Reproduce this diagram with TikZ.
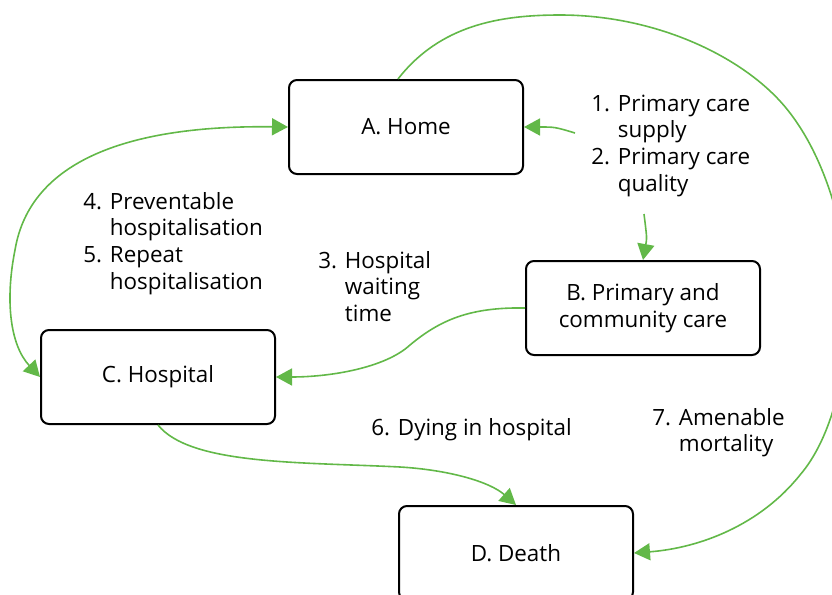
\documentclass[tikz,border=0pt]{standalone}
\usepackage{fontspec}
\setmainfont{Open Sans}
\usetikzlibrary{arrows.meta}
\definecolor{pathgreen}{RGB}{98,184,72}

\tikzset{
    stage/.style={draw, line width=1pt, rounded corners=4pt, minimum width=117pt, minimum height=47pt, align=center, font=\fontsize{11.2}{13.4}\selectfont},
    flow/.style={draw=pathgreen, line width=0.8pt, -{Triangle[length=8pt,width=8.5pt]}},
    note/.style={inner sep=0pt, anchor=base west, font=\fontsize{11.2}{13.4}\selectfont}
}
\newcommand{\steps}[1]{\begin{tabular}[t]{@{}l@{\space}l@{}}#1\end{tabular}}

\begin{document}
\begin{tikzpicture}[x=0.5pt, y=-0.5pt]
        \useasboundingbox (0,0) rectangle (832,595);
        \clip (0,0) rectangle (832,595);
        % boxes
        \node[stage] (home) at (406,127) {A. Home};
        \node[stage] (primary) at (643,308) {B. Primary and\\community care};
        \node[stage] (hosp) at (158,377) {C. Hospital};
        \node[stage] (death) at (516,553) {D. Death};
        % labels
        \node[note] (supply) at (591,111) {\steps{1. & Primary care\\ & supply\\ 2. & Primary care\\ & quality}};
        \node[note] (prevent) at (83,209) {\steps{4. & Preventable\\ & hospitalisation\\ 5. & Repeat\\ & hospitalisation}};
        \node[note] (waiting) at (318,268) {\steps{3. & Hospital\\ & waiting\\ & time}};
        \node[note] (dying) at (371,435) {6. Dying in hospital};
        \node[note] (amenable) at (652,425) {\steps{7. & Amenable\\ & mortality}};
        % free ends of the arrows from the care labels
        \coordinate (supplyleft) at (575,133);
        \coordinate (supplydown) at (644,214);
        % arrows
        \draw[flow] (supplyleft) .. controls (555,127) .. (home.east);
        \draw[flow] (supplydown) .. controls (647,238) .. (primary.north);
        \draw[flow] (primary.west) .. controls (470,307) and (440,320) .. (410,345) .. controls (385,368) and (330,377) .. (hosp.east);
        \draw[flow, {Triangle[length=8pt,width=8.5pt]}-{Triangle[length=8pt,width=8.5pt]}] (hosp.west) .. controls (10,345) and (5,300) .. (15,250) .. controls (30,160) and (130,125) .. (home.west);
        \draw[flow] (hosp.south) .. controls (190,465) and (300,462) .. (400,467) .. controls (450,470) and (490,482) .. (death.north);
        \draw[flow] ([xshift=-4pt]home.north) .. controls (440,25) and (500,15) .. (560,15) .. controls (660,15) and (750,60) .. (790,113) .. controls (830,165) and (852,250) .. (848,320) .. controls (845,380) and (830,440) .. (800,475) .. controls (760,525) and (700,548) .. (death.east);
    \end{tikzpicture}
\end{document}
